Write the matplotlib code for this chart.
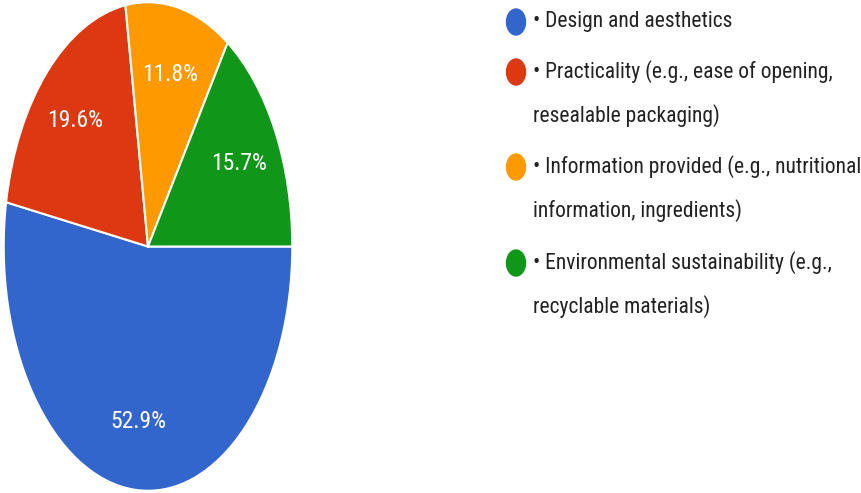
import matplotlib.pyplot as plt
from matplotlib import font_manager
from matplotlib.patches import Ellipse

labels = ['• Design and aesthetics',
          '• Practicality (e.g., ease of opening,\nresealable packaging)',
          '• Information provided (e.g., nutritional\ninformation, ingredients)',
          '• Environmental sustainability (e.g.,\nrecyclable materials)']
shares = [52.9, 19.6, 11.8, 15.7]
colors = ['#3366cc', '#dc3912', '#ff9900', '#109618']

# prefer a condensed face if one is around
installed = {f.name for f in font_manager.fontManager.ttflist}
prefs = ['Liberation Sans Narrow', 'Roboto Condensed', 'DejaVu Sans Condensed', 'Liberation Sans']
face = [f for f in prefs if f in installed][:1]
plt.rcParams['font.family'] = face + ['DejaVu Sans']

W, H = 861, 493
fig = plt.figure(figsize=(W / 100, H / 100), dpi=100)

# pie squeezed into a tall ellipse
ax = fig.add_axes([3 / W, 1 / H, 290 / W, 491 / H])
wedges, _, pcts = ax.pie(shares, colors=colors, startangle=0, counterclock=False,
                         autopct='%.1f%%', pctdistance=0.72,
                         wedgeprops=dict(edgecolor='white', linewidth=1.5),
                         textprops=dict(color='white', fontsize=17))
ax.set_aspect('auto')
ax.set_xlim(-1.005, 1.005)
ax.set_ylim(-1.005, 1.005)

# legend drawn by hand
row_y = [22, 72, 167, 263]
for lab, col, y in zip(labels, colors, row_y):
    fig.add_artist(Ellipse((516 / W, 1 - y / H), 19 / W, 26 / H,
                           transform=fig.transFigure, color=col))
    for k, line in enumerate(lab.split('\n')):
        fig.text(533 / W, 1 - (y + 44 * k) / H, line, fontsize=15.5,
                 color='#222222', ha='left', va='center')

fig.savefig('out.png', dpi=100)
